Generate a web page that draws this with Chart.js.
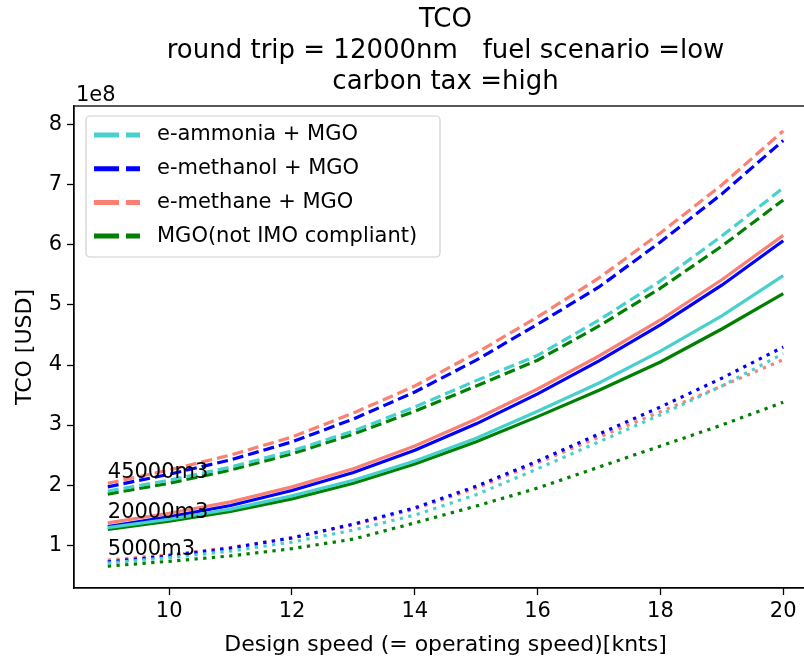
<!DOCTYPE html>
<html>
<head>
<meta charset="utf-8">
<script src="https://cdn.jsdelivr.net/npm/chart.js@4.4.1/dist/chart.umd.min.js"></script>
<style>
  html, body { margin: 0; padding: 0; background: #fff; overflow: hidden; width: 804px; height: 660px; }
  #wrap { width: 830px; height: 660px; }
</style>
</head>
<body>
<div id="wrap"><canvas id="tcoChart" width="830" height="660"></canvas></div>
<script>
// design speed [knts]
var speeds = [9, 10, 11, 12, 13, 14, 15, 16, 17, 18, 19, 20];

// TCO in units of 1e8 USD
var ammonia45000 = [1.90, 2.08, 2.30, 2.57, 2.90, 3.30, 3.74, 4.16, 4.75, 5.40, 6.15, 6.95];
var methanol45000 = [1.97, 2.18, 2.42, 2.72, 3.10, 3.55, 4.08, 4.68, 5.30, 6.05, 6.85, 7.74];
var methane45000 = [2.03, 2.25, 2.50, 2.80, 3.20, 3.65, 4.20, 4.80, 5.45, 6.20, 7.00, 7.90];
var mgo45000 = [1.85, 2.03, 2.25, 2.52, 2.85, 3.23, 3.65, 4.08, 4.65, 5.28, 5.98, 6.75];

var ammonia20000 = [1.29, 1.43, 1.60, 1.82, 2.08, 2.40, 2.78, 3.23, 3.70, 4.23, 4.82, 5.49];
var methanol20000 = [1.31, 1.47, 1.66, 1.91, 2.21, 2.58, 3.02, 3.52, 4.07, 4.67, 5.33, 6.07];
var methane20000 = [1.37, 1.53, 1.72, 1.97, 2.27, 2.65, 3.10, 3.60, 4.15, 4.75, 5.42, 6.16];
var mgo20000 = [1.26, 1.40, 1.56, 1.77, 2.03, 2.35, 2.72, 3.14, 3.58, 4.05, 4.60, 5.19];

var ammonia5000 = [0.70, 0.79, 0.90, 1.05, 1.25, 1.50, 1.84, 2.27, 2.72, 3.17, 3.65, 4.19];
var methanol5000 = [0.72, 0.82, 0.95, 1.12, 1.35, 1.62, 1.98, 2.40, 2.85, 3.30, 3.78, 4.30];
var methane5000 = [0.75, 0.84, 0.96, 1.12, 1.34, 1.60, 1.95, 2.37, 2.80, 3.22, 3.65, 4.09];
var mgo5000 = [0.65, 0.73, 0.82, 0.94, 1.10, 1.37, 1.65, 1.95, 2.30, 2.65, 3.00, 3.38];

var fuelNames = ["e-ammonia + MGO", "e-methanol + MGO", "e-methane + MGO", "MGO(not IMO compliant)"];
var sizeNames = ["45000m3", "20000m3", "5000m3"];
var xTicks = [10, 12, 14, 16, 18, 20];
var yTicks = [1, 2, 3, 4, 5, 6, 7, 8];
var titleLines = ["TCO", "round trip = 12000nm   fuel scenario =low", "carbon tax =high"];

var seriesBySize = [
    [ammonia45000, methanol45000, methane45000, mgo45000],
    [ammonia20000, methanol20000, methane20000, mgo20000],
    [ammonia5000, methanol5000, methane5000, mgo5000]
];

// styles
var fuelColors = ["#48D1CC", "#0000FF", "#FA8072", "#008000"];
var sizeDashes = [[11, 5], [], [3.3, 5.4]];
var FONT = "'DejaVu Sans', sans-serif";

var datasets = [];
seriesBySize.forEach(function(group, s) {
    group.forEach(function(values, f) {
        datasets.push({
            label: fuelNames[f] + " " + sizeNames[s],
            data: speeds.map(function(v, i) { return {x: v, y: values[i]}; }),
            borderColor: fuelColors[f],
            borderWidth: 3.2,
            borderDash: sizeDashes[s],
            borderCapStyle: "butt",
            pointRadius: 0,
            tension: 0,
            fill: false
        });
    });
});

var decorations = {
    id: "decorations",
    afterDatasetsDraw: function(chart) {
        var ctx = chart.ctx;
        var a = chart.chartArea;
        var xs = chart.scales.x, ys = chart.scales.y;
        ctx.save();

        // frame
        ctx.strokeStyle = "#000";
        ctx.lineWidth = 1.3;
        ctx.strokeRect(a.left, a.top, a.right - a.left, a.bottom - a.top);

        ctx.fillStyle = "#000";
        // size labels, next to the first point
        ctx.font = "21px " + FONT;
        ctx.textAlign = "left";
        ctx.textBaseline = "alphabetic";
        sizeNames.forEach(function(name, s) {
            var top = Math.max.apply(null, seriesBySize[s].map(function(v) { return v[0]; }));
            ctx.fillText(name, xs.getPixelForValue(speeds[0]), ys.getPixelForValue(top) - 5);
        });

        // title
        var cx = (a.left + a.right) / 2;
        ctx.textAlign = "center";
        ctx.textBaseline = "middle";
        ctx.font = "26px " + FONT;
        titleLines.forEach(function(t, i) {
            ctx.fillText(t, cx, 20 + i * 31);
        });

        // axis titles
        ctx.font = "22px " + FONT;
        ctx.fillText("Design speed (= operating speed)[knts]", cx, 645);
        ctx.save();
        ctx.translate(25, (a.top + a.bottom) / 2);
        ctx.rotate(-Math.PI / 2);
        ctx.fillText("TCO [USD]", 0, 0);
        ctx.restore();

        // offset text
        ctx.textAlign = "left";
        ctx.textBaseline = "alphabetic";
        ctx.font = "21px " + FONT;
        ctx.fillText("1e8", a.left + 2, a.top - 5);

        // legend
        var lx = 86, ly = 116, lw = 354, lh = 141;
        ctx.beginPath();
        ctx.roundRect(lx, ly, lw, lh, 4);
        ctx.fillStyle = "rgba(255,255,255,0.8)";
        ctx.fill();
        ctx.strokeStyle = "#d0d0d0";
        ctx.lineWidth = 1.2;
        ctx.stroke();
        ctx.font = "21px " + FONT;
        fuelNames.forEach(function(name, f) {
            var y = 135 + f * 33.7;
            ctx.strokeStyle = fuelColors[f];
            ctx.lineWidth = 5;
            ctx.lineCap = "butt";
            ctx.setLineDash([25, 7]);
            ctx.beginPath();
            ctx.moveTo(94, y);
            ctx.lineTo(140, y);
            ctx.stroke();
            ctx.setLineDash([]);
            ctx.fillStyle = "#000";
            ctx.textBaseline = "middle";
            ctx.fillText(name, 157, y);
        });
        ctx.restore();
    }
};

new Chart(document.getElementById("tcoChart"), {
    type: "line",
    data: { datasets: datasets },
    options: {
        responsive: false,
        animation: false,
        layout: { padding: { left: 0, right: 13, top: 106, bottom: 0 } },
        plugins: {
            legend: { display: false },
            title: { display: false },
            tooltip: { enabled: false }
        },
        scales: {
            x: {
                type: "linear",
                min: 8.45,
                max: 20.55,
                afterFit: function(s) { s.height = 72; },
                afterBuildTicks: function(s) { s.ticks = xTicks.map(function(v) { return {value: v}; }); },
                ticks: { font: { family: FONT, size: 21 }, color: "#000", padding: 4, maxRotation: 0 },
                grid: { drawOnChartArea: false, drawTicks: true, tickLength: 7, tickWidth: 1.3, tickColor: "#000" },
                border: { display: true, color: "#000", width: 1.3 }
            },
            y: {
                type: "linear",
                min: 0.285,
                max: 8.315,
                afterFit: function(s) { s.width = 74; },
                afterBuildTicks: function(s) { s.ticks = yTicks.map(function(v) { return {value: v}; }); },
                ticks: { font: { family: FONT, size: 21 }, color: "#000", padding: 5 },
                grid: { drawOnChartArea: false, drawTicks: true, tickLength: 7, tickWidth: 1.3, tickColor: "#000" },
                border: { display: true, color: "#000", width: 1.3 }
            }
        }
    },
    plugins: [decorations]
});
</script>
</body>
</html>
